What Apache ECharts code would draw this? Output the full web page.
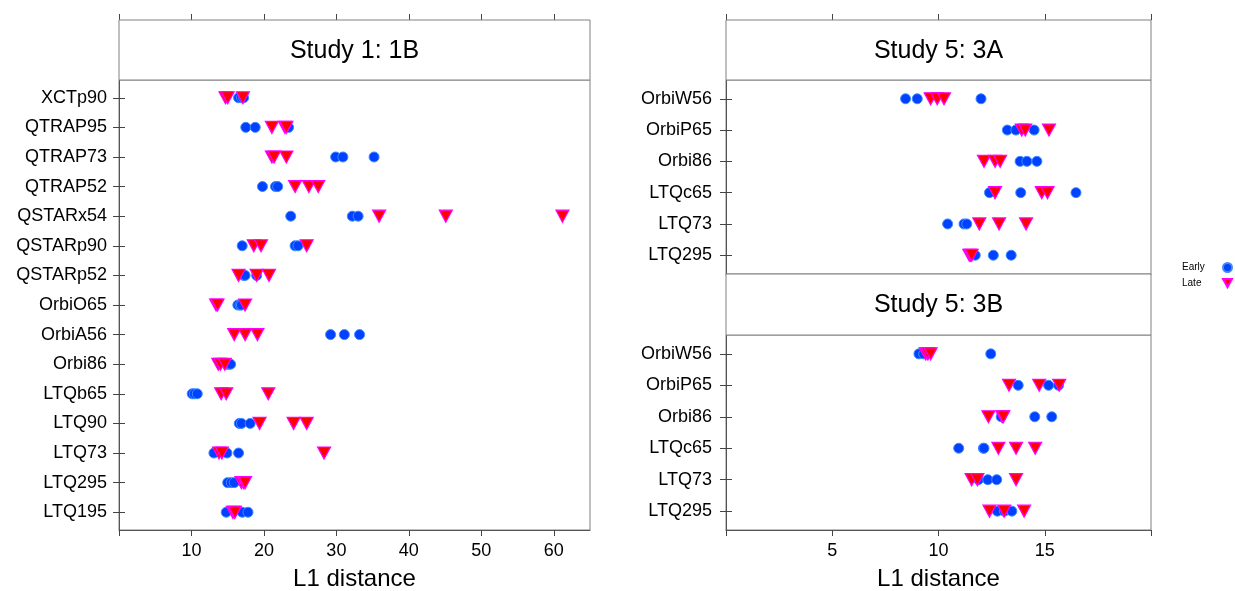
<!DOCTYPE html>
<html>
<head>
<meta charset="utf-8">
<script src="https://cdn.jsdelivr.net/npm/echarts@6/dist/echarts.min.js"></script>
<style>
html,body{margin:0;padding:0;background:#fff;}
#chart{width:1235px;height:591px;}
</style>
</head>
<body>
<div id="chart"></div>
<script>
// ---- data (rows listed top to bottom) ----
const cats1 = ['XCTp90','QTRAP95','QTRAP73','QTRAP52','QSTARx54','QSTARp90','QSTARp52','OrbiO65','OrbiA56','Orbi86','LTQb65','LTQ90','LTQ73','LTQ295','LTQ195'];
const early1 = [
  [16.5,16.9,17.2],[17.5,18.8,23.4],[29.9,30.9,35.2],[19.8,21.6,21.9],[23.7,32.2,33.0],
  [17.0,24.3,24.7],[17.2,17.4,19.0],[16.4,16.7,16.9],[29.2,31.1,33.2],[14.9,15.2,15.4],
  [10.1,10.4,10.8],[16.6,16.9,18.1],[13.1,14.9,16.5],[15.0,15.5,15.9],[14.8,17.0,17.8]
];
const late1 = [
  [14.7,15.0,17.1],[21.1,22.9,23.1],[21.1,21.4,23.1],[24.3,26.2,27.5],[35.9,45.1,61.2],
  [18.6,19.6,25.9],[16.5,19.0,20.7],[13.4,13.6,17.4],[15.9,17.4,19.1],[13.7,14.0,14.6],
  [14.1,14.8,20.6],[19.4,24.1,25.9],[13.8,14.2,28.3],[16.9,17.2,17.4],[15.7,15.9,16.0]
];
const cats5 = ['OrbiW56','OrbiP65','Orbi86','LTQc65','LTQ73','LTQ295'];
const early3A = [[8.45,9.0,12.0],[13.24,13.64,14.5],[13.84,14.16,14.63],[12.4,13.87,16.47],[10.43,11.2,11.33],[11.73,12.58,13.42]];
const late3A  = [[9.63,9.94,10.26],[13.92,14.08,15.2],[12.14,12.66,12.9],[12.66,14.86,15.13],[11.92,12.85,14.12],[11.45,11.5,11.56]];
const early3B = [[9.08,9.3,12.46],[13.75,15.18,15.65],[12.95,14.53,15.33],[10.95,12.11,12.14],[11.88,12.32,12.74],[12.77,13.1,13.45]];
const late3B  = [[9.4,9.5,9.63],[13.32,14.74,15.68],[12.35,13.0,13.05],[12.82,13.65,14.55],[11.56,11.83,13.65],[12.4,13.09,14.03]];
const ticks1 = [0,10,20,30,40,50,60];
const labels1 = [10,20,30,40,50,60];
const ticks5 = [0,5,10,15,20];
const labels5 = [5,10,15];
const titles = ['Study 1: 1B','Study 5: 3A','Study 5: 3B'];
const xTitle = 'L1 distance';
const seriesNames = ['Early','Late'];

// ---- chart ----
const FONT = '"Liberation Sans", Arial, sans-serif';
const chart = echarts.init(document.getElementById('chart'), null, {renderer:'canvas'});

function toPoints(rows){
  const out = [];
  rows.forEach((vals, i) => vals.forEach(v => out.push([v, i + 1])));
  return out;
}
function rowIdx(n){ const a=[]; for(let i=1;i<=n;i++) a.push(i); return a; }

const grids = [
  {left:119, top:80, width:471, height:450},
  {left:726, top:80, width:425, height:194},
  {left:726, top:335, width:425, height:195}
];
const panels = [
  {cats:cats1, early:early1, late:late1, xmax:65, ticks:ticks1, labels:labels1, topAxis:true, bottomAxis:true, lm:12},
  {cats:cats5, early:early3A, late:late3A, xmax:20, ticks:ticks5, labels:labels5, topAxis:true, bottomAxis:false, lm:14},
  {cats:cats5, early:early3B, late:late3B, xmax:20, ticks:ticks5, labels:labels5, topAxis:false, bottomAxis:true, lm:14}
];

const axisLineStyle = {color:'#555', width:1};
const tickStyle = {color:'#444', width:1};
const xAxes = [], yAxes = [], series = [];

panels.forEach((p, g) => {
  xAxes.push({
    type:'value', gridIndex:g, position:'bottom', min:0, max:p.xmax,
    axisLine:{show:true, lineStyle:axisLineStyle},
    axisTick:{show:p.bottomAxis, inside:false, length:6, lineStyle:tickStyle, customValues:p.ticks},
    axisLabel:{show:p.bottomAxis, customValues:p.labels, fontSize:18, fontFamily:FONT, color:'#000', margin:12,
      formatter:v => (p.labels.indexOf(v) >= 0 ? String(v) : '')},
    splitLine:{show:false},
    name:p.bottomAxis ? xTitle : '', nameLocation:'middle', nameGap:37,
    nameTextStyle:{fontSize:24, fontFamily:FONT, color:'#000'}
  });
  const bottomIdx = xAxes.length - 1;
  xAxes.push({
    type:'value', gridIndex:g, position:'top', offset:60, min:0, max:p.xmax,
    show:p.topAxis,
    axisLine:{show:false},
    axisTick:{show:true, inside:false, length:6, lineStyle:tickStyle, customValues:p.ticks},
    axisLabel:{show:false}, splitLine:{show:false}
  });
  const n = p.cats.length;
  yAxes.push({
    type:'value', gridIndex:g, position:'left', min:0.4, max:n + 0.6, inverse:true,
    axisLine:{show:true, lineStyle:axisLineStyle},
    axisTick:{show:true, inside:false, length:6, lineStyle:tickStyle, customValues:rowIdx(n)},
    axisLabel:{show:true, customValues:rowIdx(n), fontSize:18, fontFamily:FONT, color:'#000', margin:p.lm,
      formatter:v => { const k = Math.round(v); return (Math.abs(v-k) < 1e-6 && k>=1 && k<=n) ? p.cats[k-1] : ''; }},
    splitLine:{show:false}
  });
  const leftIdx = yAxes.length - 1;
  yAxes.push({
    type:'value', gridIndex:g, position:'right', min:0.4, max:n + 0.6, inverse:true,
    axisLine:{show:true, lineStyle:axisLineStyle},
    axisTick:{show:true, inside:false, length:6, lineStyle:tickStyle, customValues:rowIdx(n)},
    axisLabel:{show:false}, splitLine:{show:false}
  });
  series.push({
    name:seriesNames[0], type:'scatter', xAxisIndex:bottomIdx, yAxisIndex:leftIdx,
    symbol:'circle', symbolSize:10, z:2,
    itemStyle:{color:'#0040ff', borderColor:'#3d8bff', borderWidth:1, opacity:1},
    data:toPoints(p.early)
  });
  series.push({
    name:seriesNames[1], type:'scatter', xAxisIndex:bottomIdx, yAxisIndex:leftIdx,
    symbol:'triangle', symbolSize:[13,12], symbolRotate:180, z:3,
    itemStyle:{color:'#ff0000', borderColor:'#ff00ff', borderWidth:1.2, opacity:1},
    data:toPoints(p.late)
  });
});

const stripRects = [
  {x:119, y:20, w:471, h:60},
  {x:726, y:20, w:425, h:60},
  {x:726, y:274, w:425, h:61}
];
const graphics = [];
stripRects.forEach((r, i) => {
  graphics.push({type:'rect', shape:{x:r.x, y:r.y, width:r.w, height:r.h}, z:10,
    style:{fill:'#fff', stroke:'#808080', lineWidth:1}});
  graphics.push({type:'text', x:r.x + r.w/2, y:r.y + r.h/2 + 1, z:11,
    style:{text:titles[i], font:'25px ' + FONT, fill:'#000', align:'center', verticalAlign:'middle'}});
});

chart.setOption({
  animation:false,
  backgroundColor:'#fff',
  grid:grids.map(g => Object.assign({show:true, borderColor:'#808080', borderWidth:1, backgroundColor:'transparent',
    containLabel:false, outerBoundsMode:'none'}, g)),
  xAxis:xAxes,
  yAxis:yAxes,
  series:series,
  legend:{
    data:[{name:seriesNames[0], icon:'circle'},
          {name:seriesNames[1], icon:'path://M0,0 L10,0 L5,9 Z'}],
    orient:'vertical', align:'right', right:2, top:262, padding:0,
    itemWidth:9, itemHeight:9, itemGap:5,
    formatter:name => '{t|' + name + '}',
    textStyle:{fontSize:10, fontFamily:FONT, color:'#000',
      rich:{t:{width:36, align:'left', fontSize:10, fontFamily:FONT, color:'#000'}}}
  },
  graphic:graphics
});
</script>
</body>
</html>
